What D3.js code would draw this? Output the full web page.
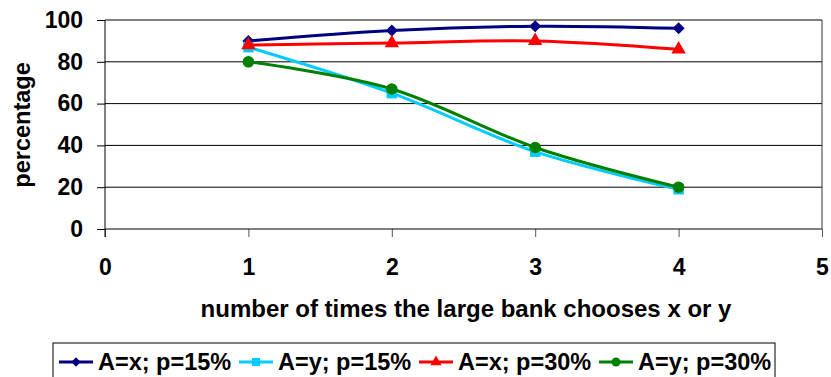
<meta charset="utf-8">
<style>
	body { margin: 0; background: #fff; }
	svg text { font-family: "Liberation Sans", Arial, sans-serif; font-weight: bold; fill: #000; }
</style>
<svg width="831" height="377" class="graph"></svg>
<script src="https://cdn.jsdelivr.net/npm/d3@7"></script>
<script>
	// values
	var xValues = [1, 2, 3, 4];
	var xTicks = [0, 1, 2, 3, 4, 5];
	var yTicks = [0, 20, 40, 60, 80, 100];
	var seriesNames = ["A=x; p=15%", "A=y; p=15%", "A=x; p=30%", "A=y; p=30%"];
	var ax15 = [90, 95, 97, 96];
	var ay15 = [87, 65, 37, 19];
	var ax30 = [88, 89, 90, 86];
	var ay30 = [80, 67, 39, 20];
	var seriesColors = ["#000080", "#00ccff", "#ff0000", "#008000"];

	// square diamond like excel's marker
	var symbolDiamondSq = {
		draw: function(context, size) {
			var r = Math.sqrt(size / 2);
			context.moveTo(0, -r);
			context.lineTo(r, 0);
			context.lineTo(0, r);
			context.lineTo(-r, 0);
			context.closePath();
		}
	};
	var seriesSymbols = [symbolDiamondSq, d3.symbolSquare, d3.symbolTriangle, d3.symbolCircle];
	var symbolSizes = [72, 110, 90, 105];

	var series = [ax15, ay15, ax30, ay30].map(function(vals, i) {
		return {
			name: seriesNames[i],
			color: seriesColors[i],
			symbol: seriesSymbols[i],
			size: symbolSizes[i],
			points: vals.map(function(v, j) { return {x: xValues[j], y: v}; })
		};
	});

	var svg = d3.select("svg"),
	margin = {top: 20, right: 9, bottom: 148, left: 105},
	width = +svg.attr("width") - margin.left - margin.right,
	height = +svg.attr("height") - margin.top - margin.bottom;

	var x = d3.scaleLinear().domain([0, 5]).range([0, width]),
	y = d3.scaleLinear().domain([0, 100]).range([height, 0]);

	var g = svg.append("g")
	.attr("transform", "translate(" + margin.left + "," + margin.top + ")");

	// grid lines
	g.append("g")
	.selectAll("line")
	.data(yTicks.filter(function(d) { return d > 0; }))
	.enter().append("line")
	.attr("x1", 0)
	.attr("x2", width)
	.attr("y1", function(d) { return y(d); })
	.attr("y2", function(d) { return y(d); })
	.attr("stroke", "#000")
	.attr("stroke-width", 1);

	// right border of plot area
	g.append("line")
	.attr("x1", width).attr("x2", width)
	.attr("y1", 0).attr("y2", height)
	.attr("stroke", "#333").attr("stroke-width", 1);

	var xAxis = d3.axisBottom(x).tickValues(xTicks).tickSize(8).tickPadding(22).tickFormat(d3.format("d"));
	var yAxis = d3.axisLeft(y).tickValues(yTicks).tickSize(8).tickPadding(14).tickFormat(d3.format("d"));

	var gx = g.append("g")
	.attr("class", "axis axis--x")
	.attr("transform", "translate(0," + height + ")")
	.call(xAxis);
	gx.select(".domain").remove();
	gx.append("line").attr("x1", 0).attr("x2", width).attr("stroke", "#000");
	gx.selectAll(".tick line").attr("stroke", "#555");
	gx.selectAll("text").style("font-size", "23px");

	var gy = g.append("g")
	.attr("class", "axis axis--y")
	.call(yAxis);
	gy.select(".domain").attr("d", "M0," + (height + 8) + "V0").attr("stroke", "#000");
	gy.selectAll(".tick line").attr("stroke", "#000");
	gy.selectAll("text").style("font-size", "23px");

	// excel-style smoothed lines
	var line = d3.line()
	.curve(d3.curveCardinal.tension(0))
	.x(function(d) { return x(d.x); })
	.y(function(d) { return y(d.y); });

	var sg = g.selectAll(".series")
	.data(series)
	.enter().append("g")
	.attr("class", "series");

	sg.append("path")
	.attr("d", function(d) { return line(d.points); })
	.attr("fill", "none")
	.attr("stroke", function(d) { return d.color; })
	.attr("stroke-width", 3);

	sg.each(function(s) {
		d3.select(this).selectAll("path.mark")
		.data(s.points)
		.enter().append("path")
		.attr("class", "mark")
		.attr("d", d3.symbol().type(s.symbol).size(s.size))
		.attr("transform", function(d) { return "translate(" + x(d.x) + "," + y(d.y) + ")"; })
		.attr("fill", s.color);
	});

	// axis titles
	svg.append("text")
	.attr("transform", "translate(30,125) rotate(-90)")
	.attr("text-anchor", "middle")
	.style("font-size", "23.5px")
	.text("percentage");

	svg.append("text")
	.attr("x", 466)
	.attr("y", 317)
	.attr("text-anchor", "middle")
	.style("font-size", "24px")
	.text("number of times the large bank chooses x or y");

	// legend
	var legend = svg.append("g").attr("transform", "translate(53,343)");
	legend.append("rect")
	.attr("width", 722)
	.attr("height", 40)
	.attr("fill", "#fff")
	.attr("stroke", "#000")
	.attr("stroke-width", 1);

	var li = legend.selectAll(".item")
	.data(series)
	.enter().append("g")
	.attr("class", "item")
	.attr("transform", function(d, i) { return "translate(" + (6 + i * 180) + ",19)"; });

	li.append("line")
	.attr("x1", 0).attr("x2", 34)
	.attr("stroke", function(d) { return d.color; })
	.attr("stroke-width", 3);

	li.append("path")
	.attr("d", function(d) { return d3.symbol().type(d.symbol).size(d.size * 0.6)(); })
	.attr("transform", "translate(17,0)")
	.attr("fill", function(d) { return d.color; });

	li.append("text")
	.attr("x", 39)
	.attr("y", 8)
	.style("font-size", "23.5px")
	.text(function(d) { return d.name; });
</script>
